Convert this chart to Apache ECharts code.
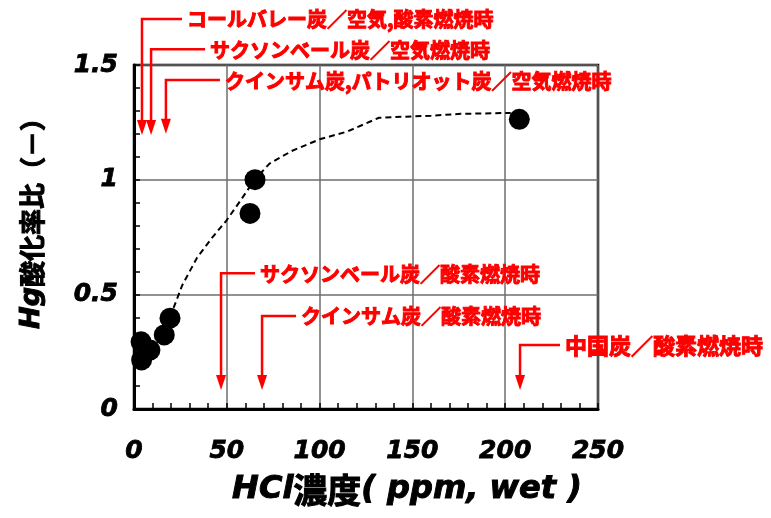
<!DOCTYPE html>
<html>
<head>
<meta charset="utf-8">
<script src="https://cdn.jsdelivr.net/npm/echarts@6/dist/echarts.min.js"></script>
<style>
  html, body { margin: 0; padding: 0; background: #fff; }
  #chart { width: 771px; height: 518px; }
</style>
</head>
<body>
<div id="chart"></div>
<script>
// Measured points: HCl concentration (ppm, wet) vs. Hg oxidation ratio
const hclPpm   = [3.8, 4.1, 8.6, 16.3, 19.4, 62.5, 65.2, 207.6];
const hgRatio  = [0.293, 0.214, 0.257, 0.323, 0.396, 0.853, 1.0, 1.263];

// Trend curve (dashed)
const trendX = [19.4, 26, 34, 42, 50, 58, 65, 73, 85, 100, 115, 132, 160, 176, 203];
const trendY = [0.40, 0.54, 0.66, 0.746, 0.824, 0.916, 1.0, 1.07, 1.125, 1.176, 1.21, 1.27, 1.279, 1.287, 1.291];

// Axis ticks
const xTicks = [0, 50, 100, 150, 200, 250];
const yTicks = [0, 0.5, 1, 1.5];

// Coal / combustion-mode annotations
const noteTexts = [
  'コールバレー炭／空気,酸素燃焼時',
  'サクソンベール炭／空気燃焼時',
  'クインサム炭,パトリオット炭／空気燃焼時',
  'サクソンベール炭／酸素燃焼時',
  'クインサム炭／酸素燃焼時',
  '中国炭／酸素燃焼時'
];
const noteHcl    = [4.3, 9.2, 17.2, 46.9, 69.0, 208.0];   // HCl value each arrow points at
const noteLevel  = [1.701, 1.569, 1.435, 0.592, 0.406, 0.279];
const noteTip    = [1.195, 1.195, 1.2, 0.083, 0.083, 0.083];

const RED = '#ff0000';
const tickFont = {
  fontFamily: 'DejaVu Sans',
  fontWeight: 'bold',
  fontStyle: 'italic',
  fontSize: 25,
  color: '#000',
  textBorderColor: '#000',
  textBorderWidth: 0.8
};

const chart = echarts.init(document.getElementById('chart'), null, { renderer: 'canvas' });

chart.setOption({
  animation: false,
  backgroundColor: '#fff',
  grid: {
    left: 134, right: 173, top: 65, bottom: 109,
    show: true, borderColor: '#000', borderWidth: 2.5
  },
  xAxis: {
    type: 'value',
    min: xTicks[0], max: xTicks[xTicks.length - 1], interval: 50,
    axisLine: { show: true, onZero: false, lineStyle: { color: '#000', width: 3 } },
    axisTick: { show: true, inside: true, length: 6, lineStyle: { color: '#000', width: 1.5 } },
    minorTick: { show: true, splitNumber: 5, length: 6, lineStyle: { color: '#000', width: 1.5 } },
    splitLine: { show: true, lineStyle: { color: '#6e6e6e', width: 1.5 } },
    axisLabel: Object.assign({ margin: 30 }, tickFont)
  },
  yAxis: {
    type: 'value',
    min: yTicks[0], max: yTicks[yTicks.length - 1], interval: 0.5,
    axisLine: { show: true, onZero: false, lineStyle: { color: '#000', width: 3 } },
    axisTick: { show: true, inside: true, length: 6, lineStyle: { color: '#000', width: 1.5 } },
    minorTick: { show: true, splitNumber: 5, length: 6, lineStyle: { color: '#000', width: 1.5 } },
    splitLine: { show: true, lineStyle: { color: '#6e6e6e', width: 1.5 } },
    axisLabel: Object.assign({ margin: 16 }, tickFont)
  },
  series: [
    {
      type: 'line',
      data: trendX.map((x, i) => [x, trendY[i]]),
      showSymbol: false,
      smooth: false,
      lineStyle: { color: '#000', width: 2, type: [6, 4] },
      z: 2
    },
    {
      type: 'scatter',
      data: hclPpm.map((x, i) => [x, hgRatio[i]]),
      symbol: 'circle',
      symbolSize: 21,
      itemStyle: { color: '#000', opacity: 1 },
      z: 3
    }
  ]
});

// Annotation arrows and labels, positioned through the axis scales
const graphics = [];
noteTexts.forEach((txt, i) => {
  const start = chart.convertToPixel({ gridIndex: 0 }, [noteHcl[i], noteLevel[i]]);
  const tip = chart.convertToPixel({ gridIndex: 0 }, [noteHcl[i], noteTip[i]]);
  const leader = i < 3 ? (i === 0 ? 40 : 54) : (i === 5 ? 40 : 34);
  const size = i === 5 ? 22 : 20;
  const x0 = start[0], y0 = start[1];
  graphics.push({
    type: 'polyline', z: 10, silent: true,
    shape: { points: [[x0 + leader, y0], [x0, y0], [x0, tip[1] - 14]] },
    style: { stroke: RED, lineWidth: 2.5, fill: null }
  });
  graphics.push({
    type: 'polygon', z: 10, silent: true,
    shape: { points: [[x0 - 5, tip[1] - 15], [x0 + 5, tip[1] - 15], [x0, tip[1]]] },
    style: { fill: RED }
  });
  graphics.push({
    type: 'text', z: 10, silent: true,
    x: x0 + leader + 5, y: y0 + 1,
    style: {
      text: txt,
      fill: RED,
      stroke: RED,
      lineWidth: 1,
      font: 'bold ' + size + 'px "Noto Sans CJK JP"',
      verticalAlign: 'middle',
      align: 'left'
    }
  });
});

// Axis titles
graphics.push({
  type: 'text', silent: true,
  x: 407, y: 490,
  style: {
    text: '{l|HCl}{c|濃度}{l|( ppm, wet )}',
    align: 'center', verticalAlign: 'middle',
    rich: {
      l: { fontFamily: 'DejaVu Sans', fontWeight: 'bold', fontStyle: 'italic', fontSize: 32,
           fill: '#000', stroke: '#000', lineWidth: 1 },
      c: { fontFamily: 'Noto Sans CJK JP', fontWeight: 'bold', fontSize: 34,
           fill: '#000', stroke: '#000', lineWidth: 1 }
    }
  }
});
graphics.push({
  type: 'text', silent: true,
  x: 32, y: 217, rotation: Math.PI / 2,
  style: {
    text: '{l|Hg}{c|酸化率比（－）}',
    align: 'center', verticalAlign: 'middle',
    rich: {
      l: { fontFamily: 'DejaVu Sans', fontWeight: 'bold', fontStyle: 'italic', fontSize: 27,
           fill: '#000', stroke: '#000', lineWidth: 1 },
      c: { fontFamily: 'Noto Sans CJK JP', fontWeight: 'bold', fontSize: 26,
           fill: '#000', stroke: '#000', lineWidth: 1 }
    }
  }
});

chart.setOption({ graphic: graphics });
</script>
</body>
</html>
